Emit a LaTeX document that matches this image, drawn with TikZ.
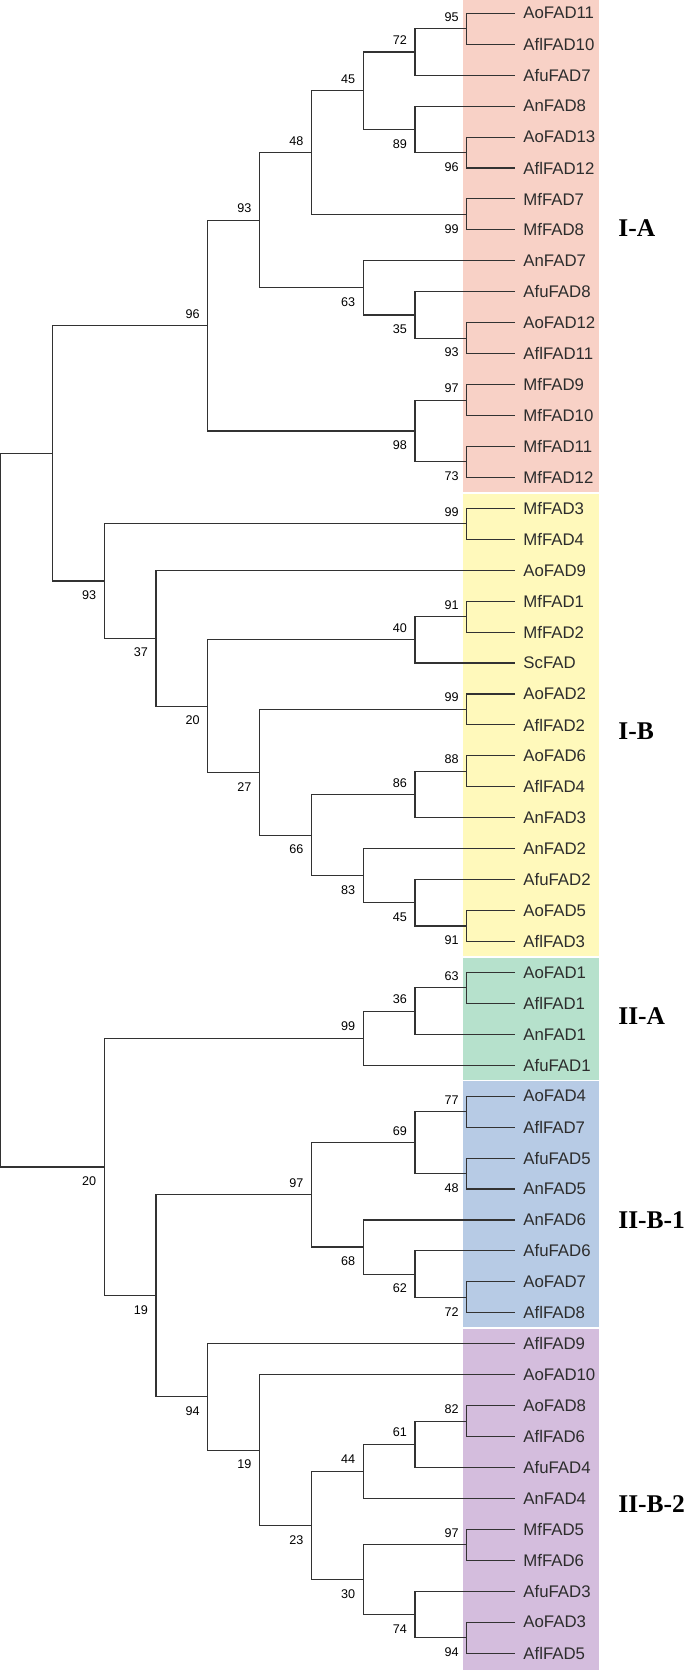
\documentclass[tikz,border=0pt]{standalone}
\usepackage{fontspec}
\setmainfont{Liberation Sans}
\newfontfamily\groupfont{Liberation Serif}
\usetikzlibrary{calc}

\definecolor{bandIA}{RGB}{248,209,198}
\definecolor{bandIB}{RGB}{255,249,187}
\definecolor{bandIIA}{RGB}{182,225,204}
\definecolor{bandIIBa}{RGB}{183,203,229}
\definecolor{bandIIBb}{RGB}{212,189,221}
\definecolor{treeline}{RGB}{50,50,50}
\definecolor{labeltext}{RGB}{45,45,45}

% clade: name, level, upper child, lower child, bootstrap, label style
\newcommand{\cladenode}[6]{%
  \path ($(#3)!.5!(#4)$) coordinate (mid);
  \coordinate (#1) at (L#2 |- mid);
  \draw[branch] (#3) -| (#1) |- (#4);
  \node[#6] (#1-bs) at (#1) {#5};
}
% join without bootstrap value
\newcommand{\rootjoin}[4]{%
  \path ($(#3)!.5!(#4)$) coordinate (mid);
  \coordinate (#1) at (L#2 |- mid);
  \draw[branch] (#3) -| (#1) |- (#4);
}

\begin{document}
\begin{tikzpicture}[x=0.5pt, y=-0.5pt,
    branch/.style={draw=treeline, line width=0.55pt},
    leaf/.style={anchor=west, inner xsep=4pt, inner ysep=0pt, text=labeltext,
      font=\fontsize{8.4}{9}\selectfont},
    bsup/.style={anchor=south east, inner sep=0pt, xshift=-3.85pt, yshift=3.5pt,
      font=\fontsize{6.3}{7}\selectfont},
    bslow/.style={anchor=north east, inner sep=0pt, xshift=-3.85pt, yshift=-4.75pt,
      font=\fontsize{6.3}{7}\selectfont},
    group/.style={anchor=west, inner sep=0pt, font=\groupfont\bfseries\fontsize{12.75}{13}\selectfont}]
    \useasboundingbox (0,0) rectangle (685,1670);

    % Bands
    \fill[bandIA] (463.3,0) rectangle (599.3,492.1);
    \fill[bandIB] (463.3,493.7) rectangle (599.3,956.2);
    \fill[bandIIA] (463.3,957.8) rectangle (599.3,1079.7);
    \fill[bandIIBa] (463.3,1081.3) rectangle (599.3,1327.4);
    \fill[bandIIBb] (463.3,1329.0) rectangle (599.3,1670);

    % Levels
    \foreach \l in {0,...,9}
        \coordinate (L\l) at ({51.8*\l+0.6},0);

    % Leaves
    \foreach \nm [count=\i from 0] in {AoFAD11, AflFAD10, AfuFAD7, AnFAD8, AoFAD13,
        AflFAD12, MfFAD7, MfFAD8, AnFAD7, AfuFAD8, AoFAD12, AflFAD11, MfFAD9, MfFAD10,
        MfFAD11, MfFAD12, MfFAD3, MfFAD4, AoFAD9, MfFAD1, MfFAD2, ScFAD, AoFAD2,
        AflFAD2, AoFAD6, AflFAD4, AnFAD3, AnFAD2, AfuFAD2, AoFAD5, AflFAD3, AoFAD1,
        AflFAD1, AnFAD1, AfuFAD1, AoFAD4, AflFAD7, AfuFAD5, AnFAD5, AnFAD6, AfuFAD6,
        AoFAD7, AflFAD8, AflFAD9, AoFAD10, AoFAD8, AflFAD6, AfuFAD4, AnFAD4, MfFAD5,
        MfFAD6, AfuFAD3, AoFAD3, AflFAD5}
        \node[leaf] (\nm) at (515,{13.3+30.94*\i}) {\nm};

    % I-A
    \cladenode{c95}{9}{AoFAD11}{AflFAD10}{95}{bsup}
    \cladenode{c72}{8}{c95}{AfuFAD7}{72}{bsup}
    \cladenode{c96a}{9}{AoFAD13}{AflFAD12}{96}{bslow}
    \cladenode{c89}{8}{AnFAD8}{c96a}{89}{bslow}
    \cladenode{c45}{7}{c72}{c89}{45}{bsup}
    \cladenode{c99a}{9}{MfFAD7}{MfFAD8}{99}{bslow}
    \cladenode{c48}{6}{c45}{c99a}{48}{bsup}
    \cladenode{c93b}{9}{AoFAD12}{AflFAD11}{93}{bslow}
    \cladenode{c35}{8}{AfuFAD8}{c93b}{35}{bslow}
    \cladenode{c63}{7}{AnFAD7}{c35}{63}{bslow}
    \cladenode{c93a}{5}{c48}{c63}{93}{bsup}
    \cladenode{c97a}{9}{MfFAD9}{MfFAD10}{97}{bsup}
    \cladenode{c73}{9}{MfFAD11}{MfFAD12}{73}{bslow}
    \cladenode{c98}{8}{c97a}{c73}{98}{bslow}
    \cladenode{c96}{4}{c93a}{c98}{96}{bsup}

    % I-B
    \cladenode{c99b}{9}{MfFAD3}{MfFAD4}{99}{bsup}
    \cladenode{c91}{9}{MfFAD1}{MfFAD2}{91}{bsup}
    \cladenode{c40}{8}{c91}{ScFAD}{40}{bsup}
    \cladenode{c99c}{9}{AoFAD2}{AflFAD2}{99}{bsup}
    \cladenode{c88}{9}{AoFAD6}{AflFAD4}{88}{bsup}
    \cladenode{c86}{8}{c88}{AnFAD3}{86}{bsup}
    \cladenode{c91b}{9}{AoFAD5}{AflFAD3}{91}{bslow}
    \cladenode{c45b}{8}{AfuFAD2}{c91b}{45}{bslow}
    \cladenode{c83}{7}{AnFAD2}{c45b}{83}{bslow}
    \cladenode{c66}{6}{c86}{c83}{66}{bslow}
    \cladenode{c27}{5}{c99c}{c66}{27}{bslow}
    \cladenode{c20a}{4}{c40}{c27}{20}{bslow}
    \cladenode{c37}{3}{AoFAD9}{c20a}{37}{bslow}
    \cladenode{c93c}{2}{c99b}{c37}{93}{bslow}
    \rootjoin{cI}{1}{c96}{c93c}

    % II-A
    \cladenode{c63b}{9}{AoFAD1}{AflFAD1}{63}{bsup}
    \cladenode{c36}{8}{c63b}{AnFAD1}{36}{bsup}
    \cladenode{c99d}{7}{c36}{AfuFAD1}{99}{bsup}

    % II-B-1
    \cladenode{c77}{9}{AoFAD4}{AflFAD7}{77}{bsup}
    \cladenode{c48b}{9}{AfuFAD5}{AnFAD5}{48}{bslow}
    \cladenode{c69}{8}{c77}{c48b}{69}{bsup}
    \cladenode{c72b}{9}{AoFAD7}{AflFAD8}{72}{bslow}
    \cladenode{c62}{8}{AfuFAD6}{c72b}{62}{bslow}
    \cladenode{c68}{7}{AnFAD6}{c62}{68}{bslow}
    \cladenode{c97b}{6}{c69}{c68}{97}{bsup}

    % II-B-2
    \cladenode{c82}{9}{AoFAD8}{AflFAD6}{82}{bsup}
    \cladenode{c61}{8}{c82}{AfuFAD4}{61}{bsup}
    \cladenode{c44}{7}{c61}{AnFAD4}{44}{bsup}
    \cladenode{c97c}{9}{MfFAD5}{MfFAD6}{97}{bsup}
    \cladenode{c94b}{9}{AoFAD3}{AflFAD5}{94}{bslow}
    \cladenode{c74}{8}{AfuFAD3}{c94b}{74}{bslow}
    \cladenode{c30}{7}{c97c}{c74}{30}{bslow}
    \cladenode{c23}{6}{c44}{c30}{23}{bslow}
    \cladenode{c19b}{5}{AoFAD10}{c23}{19}{bslow}
    \cladenode{c94}{4}{AflFAD9}{c19b}{94}{bslow}
    \cladenode{c19}{3}{c97b}{c94}{19}{bslow}
    \cladenode{c20b}{2}{c99d}{c19}{20}{bslow}
    \rootjoin{root}{0}{cI}{c20b}

    % Group labels
    \node[group] (gIA) at (618,228) {I-A};
    \node[group] (gIB) at (618,731) {I-B};
    \node[group] (gIIA) at (618,1016) {II-A};
    \node[group] (gIIBa) at (618,1220) {II-B-1};
    \node[group] (gIIBb) at (618,1504) {II-B-2};
\end{tikzpicture}
\end{document}
